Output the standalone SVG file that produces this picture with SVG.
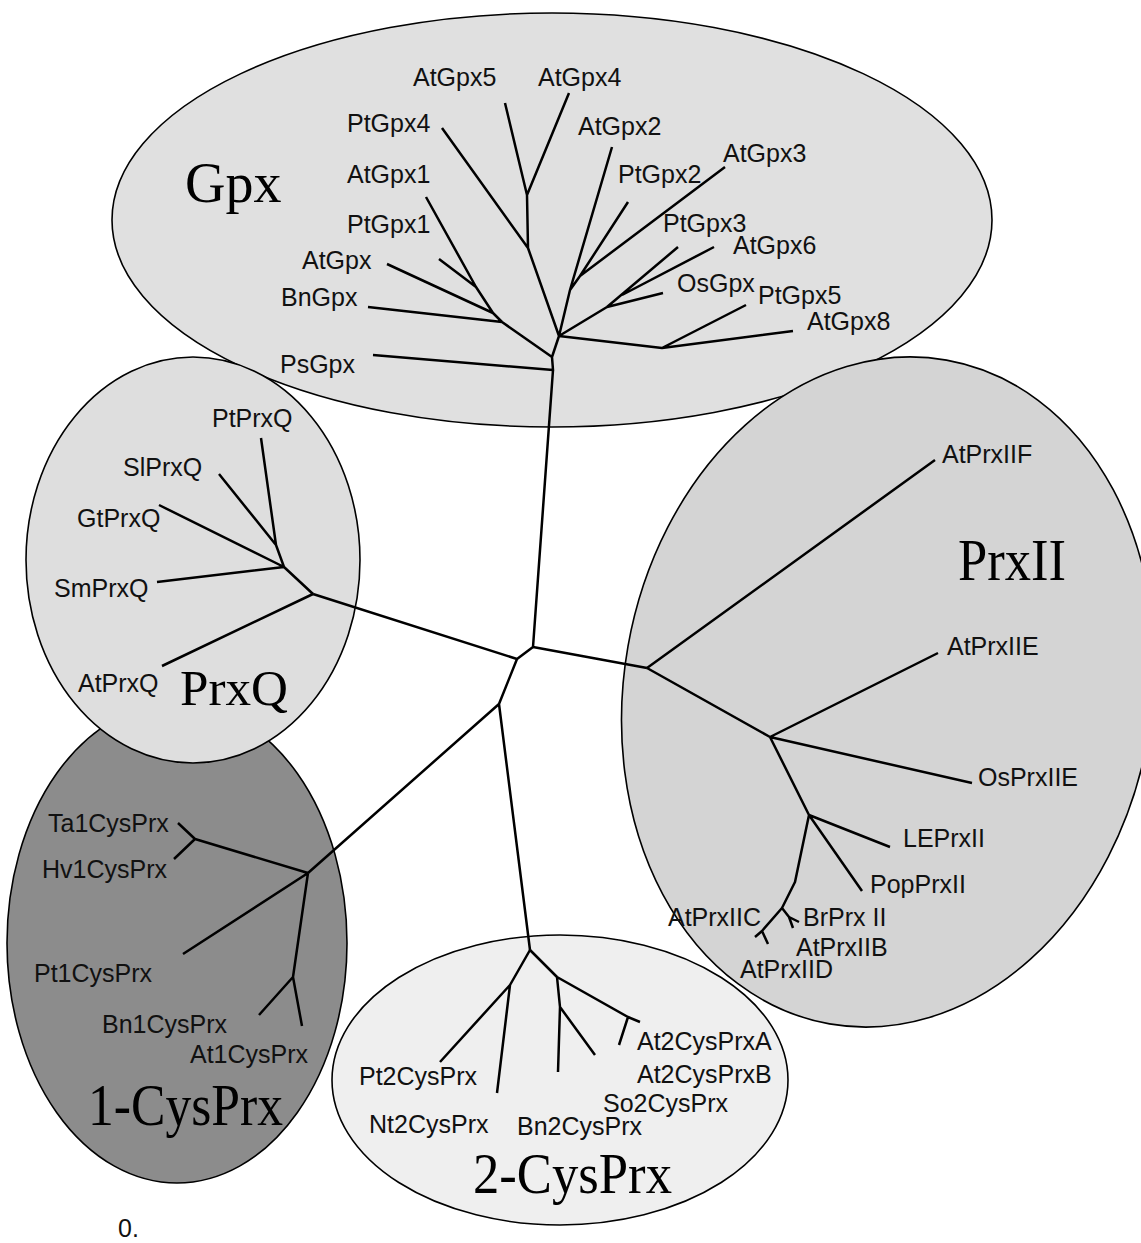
<svg xmlns="http://www.w3.org/2000/svg" width="1141" height="1243" viewBox="0 0 1141 1243">
<style>
.bg{fill:#ffffff}
.cl{stroke:#000;stroke-width:1.6}
.t{font-family:"Liberation Sans",Arial,sans-serif;font-size:25px;fill:#111}
.title{font-family:"Liberation Serif","Times New Roman",serif;fill:#000}
.e{fill:none;stroke:#000;stroke-width:2.5;stroke-linejoin:round;stroke-linecap:butt}
</style>
<rect class="bg" x="0" y="0" width="1141" height="1243"/>

<g id="clade-Gpx">
<ellipse class="cl" cx="552" cy="220" rx="440" ry="207" fill="#e0e0e0"/>
<text class="title" x="185" y="202" font-size="56">Gpx</text>
</g>
<g id="clade-1-CysPrx">
<ellipse class="cl" cx="177" cy="943" rx="170" ry="240" fill="#8c8c8c"/>
<text class="title" x="88" y="1125" font-size="60" textLength="195" lengthAdjust="spacingAndGlyphs">1-CysPrx</text>
</g>
<g id="clade-PrxQ">
<ellipse class="cl" cx="193" cy="560" rx="167" ry="203" fill="#dedede"/>
<text class="title" x="180" y="705" font-size="50" textLength="108" lengthAdjust="spacingAndGlyphs">PrxQ</text>
</g>
<g id="clade-2-CysPrx">
<ellipse class="cl" cx="560" cy="1080" rx="228" ry="145" fill="#efefef"/>
<text class="title" x="473" y="1193" font-size="56" textLength="199" lengthAdjust="spacingAndGlyphs">2-CysPrx</text>
</g>
<g id="clade-PrxII">
<ellipse class="cl" cx="888" cy="692" rx="264" ry="337" fill="#d4d4d4" transform="rotate(10 888 692)"/>
<text class="title" x="958" y="580" font-size="60" textLength="108" lengthAdjust="spacingAndGlyphs">PrxII</text>
</g>

<g id="edges">
<path class="e" d="M553,370 L533,647 M533,647 L647,668 M533,647 L517,659 L313,594 M517,659 L499,704 L308,873 M499,704 L530,950"/>
<path class="e" d="M373,355 L553,370 L552,357 L502,322 L493,313 L476,287 L426,197 M476,287 L439,259 M493,313 L387,264 M502,322 L368,307 M552,357 L559,336 L528,248 L527,195 L505,103 M528,248 L442,128 M527,195 L569,93 M559,336 L570,290 L612,147 M570,290 L580,276 L628,202 M580,276 L725,167 M559,336 L607,307 L678,247 M622,295 L714,247 M607,307 L663,293 M559,336 L662,348 L746,305 M662,348 L793,331"/>
<path class="e" d="M313,594 L284,567 L276,545 L261,438 M276,545 L219,474 M284,567 L159,505 M284,567 L157,582 M313,594 L162,666"/>
<path class="e" d="M308,873 L195,839 L178,823 M195,839 L174,859 M308,873 L183,954 M308,873 L293,977 L302,1026 M293,977 L259,1015"/>
<path class="e" d="M530,950 L510,985 L440,1062 M510,985 L497,1093 M530,950 L557,977 L628,1017 L640,1022 M628,1017 L619,1045 M557,977 L560,1007 L558,1072 M560,1007 L595,1055"/>
<path class="e" d="M647,668 L935,460 M647,668 L770,737 L938,653 M770,737 L972,783 M770,737 L809,815 L890,847 M809,815 L862,891 M809,815 L795,882 L782,908 L762,931 L755,937 M762,931 L768,944 M782,908 L789,917 L793,928 M789,917 L799,922"/>
</g>

<g id="leaf-AtGpx5"><text class="t" x="413" y="86">AtGpx5</text></g>
<g id="leaf-AtGpx4"><text class="t" x="538" y="86">AtGpx4</text></g>
<g id="leaf-PtGpx4"><text class="t" x="347" y="132">PtGpx4</text></g>
<g id="leaf-AtGpx2"><text class="t" x="578" y="135">AtGpx2</text></g>
<g id="leaf-AtGpx3"><text class="t" x="723" y="162">AtGpx3</text></g>
<g id="leaf-AtGpx1"><text class="t" x="347" y="183">AtGpx1</text></g>
<g id="leaf-PtGpx2"><text class="t" x="618" y="183">PtGpx2</text></g>
<g id="leaf-PtGpx1"><text class="t" x="347" y="233">PtGpx1</text></g>
<g id="leaf-PtGpx3"><text class="t" x="663" y="232">PtGpx3</text></g>
<g id="leaf-AtGpx6"><text class="t" x="733" y="254">AtGpx6</text></g>
<g id="leaf-AtGpx"><text class="t" x="302" y="269">AtGpx</text></g>
<g id="leaf-OsGpx"><text class="t" x="677" y="292">OsGpx</text></g>
<g id="leaf-PtGpx5"><text class="t" x="758" y="304">PtGpx5</text></g>
<g id="leaf-BnGpx"><text class="t" x="281" y="306">BnGpx</text></g>
<g id="leaf-AtGpx8"><text class="t" x="807" y="330">AtGpx8</text></g>
<g id="leaf-PsGpx"><text class="t" x="280" y="373">PsGpx</text></g>

<g id="leaf-PtPrxQ"><text class="t" x="212" y="427">PtPrxQ</text></g>
<g id="leaf-SlPrxQ"><text class="t" x="123" y="476">SlPrxQ</text></g>
<g id="leaf-GtPrxQ"><text class="t" x="77" y="527">GtPrxQ</text></g>
<g id="leaf-SmPrxQ"><text class="t" x="54" y="597">SmPrxQ</text></g>
<g id="leaf-AtPrxQ"><text class="t" x="78" y="692">AtPrxQ</text></g>

<g id="leaf-Ta1CysPrx"><text class="t" x="48" y="832">Ta1CysPrx</text></g>
<g id="leaf-Hv1CysPrx"><text class="t" x="42" y="878">Hv1CysPrx</text></g>
<g id="leaf-Pt1CysPrx"><text class="t" x="34" y="982">Pt1CysPrx</text></g>
<g id="leaf-Bn1CysPrx"><text class="t" x="102" y="1033">Bn1CysPrx</text></g>
<g id="leaf-At1CysPrx"><text class="t" x="190" y="1063">At1CysPrx</text></g>

<g id="leaf-Pt2CysPrx"><text class="t" x="359" y="1085">Pt2CysPrx</text></g>
<g id="leaf-Nt2CysPrx"><text class="t" x="369" y="1133">Nt2CysPrx</text></g>
<g id="leaf-Bn2CysPrx"><text class="t" x="517" y="1135">Bn2CysPrx</text></g>
<g id="leaf-So2CysPrx"><text class="t" x="603" y="1112">So2CysPrx</text></g>
<g id="leaf-At2CysPrxA"><text class="t" x="637" y="1050">At2CysPrxA</text></g>
<g id="leaf-At2CysPrxB"><text class="t" x="637" y="1083">At2CysPrxB</text></g>

<g id="leaf-AtPrxIIF"><text class="t" x="942" y="463">AtPrxIIF</text></g>
<g id="leaf-AtPrxIIE"><text class="t" x="947" y="655">AtPrxIIE</text></g>
<g id="leaf-OsPrxIIE"><text class="t" x="978" y="786">OsPrxIIE</text></g>
<g id="leaf-LEPrxII"><text class="t" x="903" y="847">LEPrxII</text></g>
<g id="leaf-PopPrxII"><text class="t" x="870" y="893">PopPrxII</text></g>
<g id="leaf-AtPrxIIC"><text class="t" x="668" y="926">AtPrxIIC</text></g>
<g id="leaf-BrPrxII"><text class="t" x="803" y="926">BrPrx II</text></g>
<g id="leaf-AtPrxIIB"><text class="t" x="796" y="956">AtPrxIIB</text></g>
<g id="leaf-AtPrxIID"><text class="t" x="740" y="978">AtPrxIID</text></g>

<g id="scale-label"><text class="t" x="118" y="1237">0.</text></g>
</svg>
